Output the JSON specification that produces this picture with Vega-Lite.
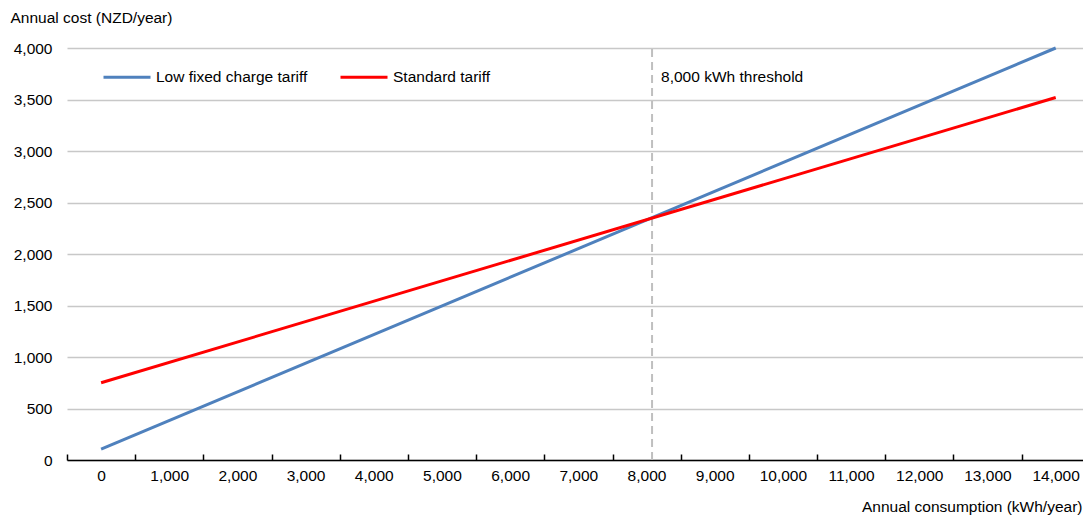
{
  "$schema": "https://vega.github.io/schema/vega-lite/v6.json",
  "width": 1016,
  "height": 412,
  "autosize": "none",
  "padding": {"left": 67, "top": 48, "right": 0, "bottom": 55},
  "background": "white",
  "config": {
    "view": {"stroke": null},
    "font": "Liberation Sans",
    "text": {"font": "Liberation Sans"}
  },
  "datasets": {
    "tariffs": [
      {"tariff": "Low fixed charge tariff", "consumption": 0, "cost": 105},
      {"tariff": "Low fixed charge tariff", "consumption": 14000, "cost": 4000},
      {"tariff": "Standard tariff", "consumption": 0, "cost": 750},
      {"tariff": "Standard tariff", "consumption": 14000, "cost": 3520}
    ],
    "threshold": [
      {"consumption": 8080, "label": "8,000 kWh threshold"}
    ]
  },
  "layer": [
    {
      "data": {"name": "threshold"},
      "mark": {"type": "rule", "color": "#bfbfbf", "strokeWidth": 2, "strokeDash": [8, 5]},
      "encoding": {
        "x": {"field": "consumption", "type": "quantitative"},
        "y": {"datum": 0, "type": "quantitative"},
        "y2": {"datum": 4030}
      }
    },
    {
      "data": {"name": "threshold"},
      "mark": {"type": "text", "align": "left", "baseline": "middle", "dx": 9, "fontSize": 15.5, "color": "black"},
      "encoding": {
        "x": {"field": "consumption", "type": "quantitative"},
        "y": {"datum": 3720, "type": "quantitative"},
        "text": {"field": "label"}
      }
    },
    {
      "data": {"name": "tariffs"},
      "mark": {"type": "line", "strokeWidth": 3},
      "encoding": {
        "x": {
          "field": "consumption",
          "type": "quantitative",
          "scale": {"domain": [-500, 14400], "nice": false, "zero": false},
          "axis": {
            "values": [-500, 500, 1500, 2500, 3500, 4500, 5500, 6500, 7500, 8500, 9500, 10500, 11500, 12500, 13500],
            "labelExpr": "format(datum.value + 500, ',d')",
            "labelOffset": 34,
            "grid": false,
            "domainColor": "black",
            "domainWidth": 1.5,
            "tickColor": "black",
            "tickWidth": 1.5,
            "tickSize": -6,
            "labelPadding": 14,
            "labelFontSize": 15.5,
            "labelColor": "black",
            "labelOverlap": false,
            "labelFlush": false,
            "labelBound": false,
            "title": "Annual consumption (kWh/year)",
            "titleX": 1015,
            "titleY": 46,
            "titleAlign": "right",
            "titleBaseline": "middle",
            "titleFontWeight": "normal",
            "titleFontSize": 15.5,
            "titleColor": "black"
          }
        },
        "y": {
          "field": "cost",
          "type": "quantitative",
          "scale": {"domain": [0, 4000], "nice": false},
          "axis": {
            "values": [0, 500, 1000, 1500, 2000, 2500, 3000, 3500, 4000],
            "format": ",d",
            "grid": true,
            "gridColor": "#c8c8c8",
            "gridWidth": 1.5,
            "domain": false,
            "ticks": false,
            "tickSize": 0,
            "labelPadding": 15,
            "labelFontSize": 15.5,
            "labelColor": "black",
            "title": "Annual cost (NZD/year)",
            "titleAngle": 0,
            "titleX": -57,
            "titleY": -31,
            "titleAlign": "left",
            "titleBaseline": "middle",
            "titleFontWeight": "normal",
            "titleFontSize": 15.5,
            "titleColor": "black"
          }
        },
        "color": {
          "field": "tariff",
          "type": "nominal",
          "scale": {"domain": ["Low fixed charge tariff", "Standard tariff"], "range": ["#4f81bd", "#ff0000"]},
          "legend": {
            "orient": "none",
            "legendX": 35,
            "legendY": 4,
            "direction": "horizontal",
            "title": null,
            "symbolType": "stroke",
            "symbolSize": 2209,
            "symbolStrokeWidth": 3,
            "labelFontSize": 15.5,
            "labelColor": "black",
            "labelOffset": 4,
            "columnPadding": 26,
            "padding": 0
          }
        }
      }
    }
  ]
}
